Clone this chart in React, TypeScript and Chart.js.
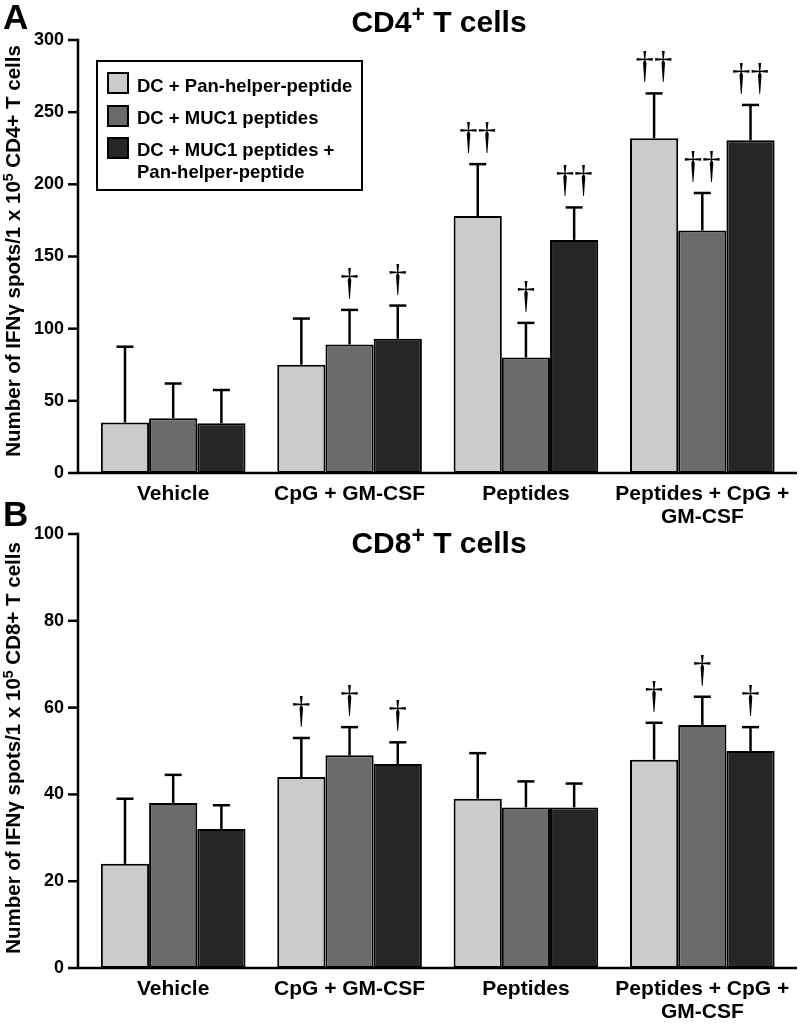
import React, { useEffect, useRef } from "react";
import { Chart, registerables } from "chart.js";

Chart.register(...registerables);

// ---------- data ----------
const categories: (string | string[])[] = [
  "Vehicle",
  "CpG + GM-CSF",
  "Peptides",
  ["Peptides + CpG +", "GM-CSF"],
];
const seriesNames = [
  "DC + Pan-helper-peptide",
  "DC + MUC1 peptides",
  "DC + MUC1 peptides + Pan-helper-peptide",
];
const legendLines = [
  ["DC + Pan-helper-peptide"],
  ["DC + MUC1 peptides"],
  ["DC + MUC1 peptides +", "Pan-helper-peptide"],
];
const seriesColors = ["#cbcbcb", "#6b6b6b", "#262626"];

// Panel A: CD4+ T cells (mean, SD, significance daggers)
const cd4PanMean = [35, 75, 178, 232];
const cd4PanErr = [52.5, 32, 36, 31];
const cd4MucMean = [38, 89, 80, 168];
const cd4MucErr = [24, 24, 24, 26];
const cd4BothMean = [34.5, 93, 161.5, 230.5];
const cd4BothErr = [23, 23, 22.5, 24.5];
const cd4PanMarks = [0, 0, 2, 2];
const cd4MucMarks = [0, 1, 1, 2];
const cd4BothMarks = [0, 1, 2, 2];
const cd4Ticks = [0, 50, 100, 150, 200, 250, 300];

// Panel B: CD8+ T cells
const cd8PanMean = [24, 44, 39, 48];
const cd8PanErr = [15, 9, 10.5, 8.5];
const cd8MucMean = [38, 49, 37, 56];
const cd8MucErr = [6.5, 6.5, 6, 6.5];
const cd8BothMean = [32, 47, 37, 50];
const cd8BothErr = [5.5, 5, 5.5, 5.5];
const cd8PanMarks = [0, 1, 0, 1];
const cd8MucMarks = [0, 1, 0, 1];
const cd8BothMarks = [0, 1, 0, 1];
const cd8Ticks = [0, 20, 40, 60, 80, 100];

// ---------- styling ----------
const SANS = '"Liberation Sans", Arial, Helvetica, sans-serif';
const SERIF = '"Liberation Serif", "Times New Roman", serif';
const AXIS_X = 78;
const X_END = 797;

type Panel = {
  letter: string;
  cell: string;
  means: number[][];
  errs: number[][];
  marks: number[][];
  ticks: number[];
  canvasH: number;
  areaTop: number;
  areaBottom: number;
  letterY: number;
  titleY: number;
  yTitleCY: number;
  showLegend: boolean;
};

const panels: Panel[] = [
  {
    letter: "A",
    cell: "CD4",
    means: [cd4PanMean, cd4MucMean, cd4BothMean],
    errs: [cd4PanErr, cd4MucErr, cd4BothErr],
    marks: [cd4PanMarks, cd4MucMarks, cd4BothMarks],
    ticks: cd4Ticks,
    canvasH: 540,
    areaTop: 40,
    areaBottom: 473,
    letterY: 29,
    titleY: 32,
    yTitleCY: 251,
    showLegend: true,
  },
  {
    letter: "B",
    cell: "CD8",
    means: [cd8PanMean, cd8MucMean, cd8BothMean],
    errs: [cd8PanErr, cd8MucErr, cd8BothErr],
    marks: [cd8PanMarks, cd8MucMarks, cd8BothMarks],
    ticks: cd8Ticks,
    canvasH: 538,
    areaTop: 44,
    areaBottom: 478,
    letterY: 36,
    titleY: 63,
    yTitleCY: 258,
    showLegend: false,
  },
];
const PANEL_TOPS = [0, 490];

type Part = { text: string; size: number; rise: number };

function drawParts(ctx: CanvasRenderingContext2D, parts: Part[], cx: number, baseY: number) {
  let total = 0;
  const widths: number[] = [];
  parts.forEach((p) => {
    ctx.font = `bold ${p.size}px ${SANS}`;
    const w = ctx.measureText(p.text).width;
    widths.push(w);
    total += w;
  });
  let x = cx - total / 2;
  ctx.textAlign = "left";
  ctx.textBaseline = "alphabetic";
  parts.forEach((p, i) => {
    ctx.font = `bold ${p.size}px ${SANS}`;
    ctx.fillText(p.text, x, baseY - p.rise);
    x += widths[i];
  });
}

function decorPlugin(p: Panel) {
  return {
    id: "decor",
    afterDatasetsDraw(chart: any) {
      const ctx: CanvasRenderingContext2D = chart.ctx;
      const ys = chart.scales.y;
      const area = chart.chartArea;
      ctx.save();
      ctx.strokeStyle = "#000";
      ctx.fillStyle = "#000";
      // error bars + significance marks
      p.means.forEach((m, di) => {
        const meta = chart.getDatasetMeta(di);
        meta.data.forEach((el: any, i: number) => {
          const top = ys.getPixelForValue(m[i] + p.errs[di][i]);
          ctx.lineWidth = 2.5;
          ctx.beginPath();
          ctx.moveTo(el.x, el.y);
          ctx.lineTo(el.x, top);
          ctx.stroke();
          ctx.beginPath();
          ctx.moveTo(el.x - 8.5, top);
          ctx.lineTo(el.x + 8.5, top);
          ctx.stroke();
          const n = p.marks[di][i];
          if (n > 0) {
            ctx.font = `37px ${SERIF}`;
            ctx.textAlign = "center";
            ctx.textBaseline = "alphabetic";
            ctx.fillText("\u2020".repeat(n), el.x, top - 15);
          }
        });
      });
      // axes
      ctx.lineWidth = 2.5;
      ctx.beginPath();
      ctx.moveTo(AXIS_X, area.top - 1.2);
      ctx.lineTo(AXIS_X, area.bottom);
      ctx.lineTo(X_END, area.bottom);
      ctx.stroke();
      ys.ticks.forEach((t: any) => {
        const yy = ys.getPixelForValue(t.value);
        ctx.beginPath();
        ctx.moveTo(AXIS_X - 10, yy);
        ctx.lineTo(AXIS_X, yy);
        ctx.stroke();
      });
      // panel letter
      ctx.font = `bold 35px ${SANS}`;
      ctx.textAlign = "left";
      ctx.textBaseline = "alphabetic";
      ctx.fillText(p.letter, 3, p.letterY);
      // title
      drawParts(
        ctx,
        [
          { text: p.cell, size: 30, rise: 0 },
          { text: "+", size: 23, rise: 10 },
          { text: " T cells", size: 30, rise: 0 },
        ],
        439,
        p.titleY
      );
      // y axis title
      ctx.save();
      ctx.translate(12.5, p.yTitleCY);
      ctx.rotate(-Math.PI / 2);
      drawParts(
        ctx,
        [
          { text: "Number of IFN\u03b3 spots/1 x 10", size: 20.5, rise: 0 },
          { text: "5", size: 14, rise: 7 },
          { text: ` ${p.cell}+ T cells`, size: 20.5, rise: 0 },
        ],
        0,
        7.5
      );
      ctx.restore();
      // legend
      if (p.showLegend) {
        ctx.lineWidth = 2;
        ctx.strokeRect(97, 61, 265, 129);
        const swY = [73, 106, 138];
        const baseY = [[92], [124], [156, 178]];
        legendLines.forEach((lines, i) => {
          ctx.fillStyle = seriesColors[i];
          ctx.fillRect(108, swY[i], 20, 20);
          ctx.strokeRect(108, swY[i], 20, 20);
          ctx.fillStyle = "#000";
          ctx.font = `bold 18.5px ${SANS}`;
          ctx.textAlign = "left";
          lines.forEach((ln, j) => ctx.fillText(ln, 137, baseY[i][j]));
        });
      }
      ctx.restore();
    },
  };
}

function PanelChart({ p, top }: { p: Panel; top: number }) {
  const ref = useRef<HTMLCanvasElement | null>(null);
  useEffect(() => {
    if (!ref.current) return;
    const chart = new Chart(ref.current, {
      type: "bar",
      data: {
        labels: categories as any,
        datasets: p.means.map((m, i) => ({
          label: seriesNames[i],
          data: m,
          backgroundColor: seriesColors[i],
          borderColor: "#000",
          borderWidth: 2,
          borderSkipped: false,
          categoryPercentage: 0.82,
          barPercentage: 1,
        })),
      },
      options: {
        responsive: false,
        animation: false,
        events: [],
        layout: { padding: { top: p.areaTop, left: 0, right: 800 - 794, bottom: 0 } },
        plugins: {
          legend: { display: false },
          tooltip: { enabled: false },
          title: { display: false },
        },
        scales: {
          x: {
            grid: { display: false, drawTicks: false },
            border: { display: false },
            ticks: {
              color: "#000",
              font: { family: SANS, size: 21, weight: "bold", lineHeight: 1.1 },
              padding: 10,
              maxRotation: 0,
              autoSkip: false,
            },
            afterFit: (s: any) => {
              s.height = p.canvasH - p.areaBottom;
            },
          },
          y: {
            min: p.ticks[0],
            max: p.ticks[p.ticks.length - 1],
            afterBuildTicks: (s: any) => {
              s.ticks = p.ticks.map((v) => ({ value: v }));
            },
            grid: { display: false, drawTicks: false },
            border: { display: false },
            ticks: {
              color: "#000",
              font: { family: SANS, size: 18, weight: "bold" },
              padding: 21,
            },
            afterFit: (s: any) => {
              s.width = 85;
            },
          },
        },
      },
      plugins: [decorPlugin(p)],
    } as any);
    return () => chart.destroy();
  }, [p]);
  return (
    <canvas
      ref={ref}
      width={800}
      height={p.canvasH}
      style={{ position: "absolute", left: 0, top, width: 800, height: p.canvasH, display: "block" }}
    />
  );
}

export default function App() {
  return (
    <div style={{ position: "absolute", left: 0, top: 0, width: 800, height: 1028, background: "#fff", overflow: "hidden" }}>
      {panels.map((p, i) => (
        <PanelChart key={p.letter} p={p} top={PANEL_TOPS[i]} />
      ))}
    </div>
  );
}
